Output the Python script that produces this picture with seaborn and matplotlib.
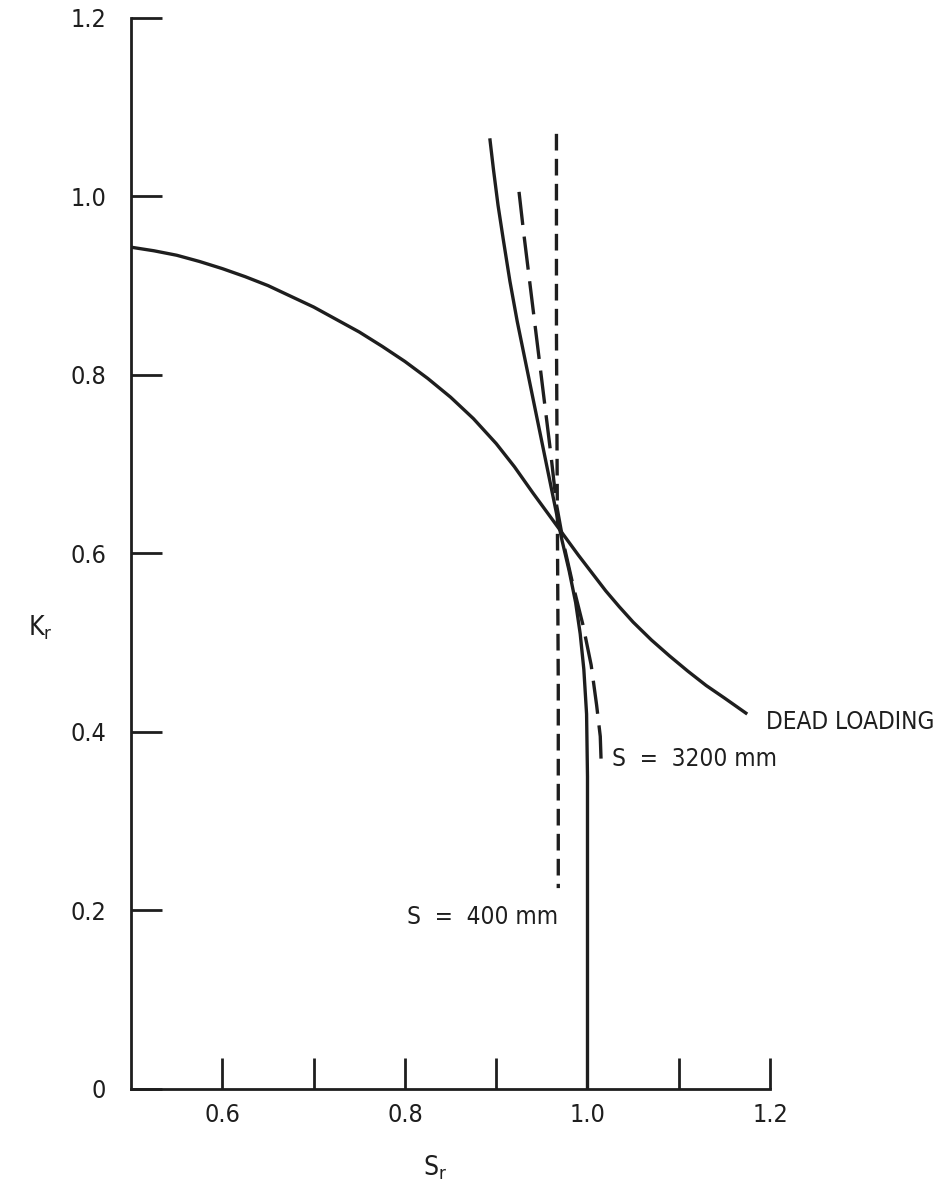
import numpy as np
import pandas as pd
import matplotlib
matplotlib.use("Agg")
import matplotlib.pyplot as plt
import seaborn as sns

# curves (S_r, K_r)
dead_s = [0.50, 0.525, 0.55, 0.575, 0.60, 0.625, 0.65, 0.675, 0.70, 0.725, 0.75,
          0.775, 0.80, 0.825, 0.85, 0.875, 0.90, 0.92, 0.94, 0.955, 0.965, 0.975,
          0.99, 1.005, 1.02, 1.035, 1.05, 1.07, 1.09, 1.11, 1.13, 1.15, 1.175]
dead_k = [0.943, 0.939, 0.934, 0.927, 0.919, 0.910, 0.900, 0.888, 0.876, 0.862, 0.848,
          0.832, 0.815, 0.796, 0.775, 0.751, 0.723, 0.697, 0.668, 0.647, 0.633, 0.619,
          0.598, 0.578, 0.558, 0.540, 0.523, 0.503, 0.485, 0.468, 0.452, 0.438, 0.420]

solid_s = [0.893, 0.897, 0.902, 0.908, 0.915, 0.923, 0.932, 0.941, 0.950, 0.958,
           0.965, 0.972, 0.980, 0.987, 0.992, 0.996, 0.999, 1.000, 1.000]
solid_k = [1.065, 1.030, 0.990, 0.950, 0.905, 0.860, 0.815, 0.770, 0.725, 0.685,
           0.650, 0.615, 0.580, 0.545, 0.510, 0.470, 0.420, 0.350, 0.000]

s3200_s = [0.925, 0.930, 0.936, 0.942, 0.948, 0.954, 0.960, 0.966, 0.974, 0.984,
           0.995, 1.004, 1.010, 1.014, 1.015]
s3200_k = [1.005, 0.960, 0.910, 0.860, 0.810, 0.760, 0.710, 0.655, 0.610, 0.565,
           0.520, 0.475, 0.430, 0.395, 0.365]

s400_s = [0.966, 0.966, 0.967, 0.968, 0.968]
s400_k = [1.07, 0.85, 0.64, 0.45, 0.225]

x_ticks = [0.6, 0.7, 0.8, 0.9, 1.0, 1.1, 1.2]
x_labels = ["0.6", "", "0.8", "", "1.0", "", "1.2"]
y_ticks = [0, 0.2, 0.4, 0.6, 0.8, 1.0, 1.2]
y_labels = ["0", "0.2", "0.4", "0.6", "0.8", "1.0", "1.2"]

sns.set_theme(style="white")
plt.rcParams['font.family'] = ['DejaVu Sans']
plt.rcParams['font.stretch'] = 'condensed'

fig = plt.figure(figsize=(9.43, 11.87), dpi=100)
ax = fig.add_axes([0.139, 0.0826, 0.6776, 0.9024])

ink = "#1e1e1e"
lw = 2.4
curves = [
    (dead_s, dead_k, None),
    (solid_s, solid_k, None),
    (s3200_s, s3200_k, (10, 3.5)),
    (s400_s, s400_k, (5, 2.5)),
]
for xs, ys, dash in curves:
    df = pd.DataFrame({"S": xs, "K": ys})
    sns.lineplot(data=df, x="S", y="K", sort=False, estimator=None,
                 color=ink, linewidth=lw, ax=ax)
    if dash is not None:
        ax.lines[-1].set_dashes(dash)
    ax.lines[-1].set_solid_capstyle("butt")
    ax.lines[-1].set_solid_joinstyle("round")

ax.set_xlim(0.5, 1.2)
ax.set_ylim(0, 1.2)
ax.set_xticks(x_ticks)
ax.set_xticklabels(x_labels)
ax.set_yticks(y_ticks)
ax.set_yticklabels(y_labels)

for side in ["top", "right"]:
    ax.spines[side].set_visible(False)
for side in ["left", "bottom"]:
    ax.spines[side].set_color(ink)
    ax.spines[side].set_linewidth(2.0)

ax.tick_params(axis="both", direction="in", length=22, width=2.0,
               bottom=True, left=True, color=ink, labelsize=18, labelcolor=ink)
ax.tick_params(axis="x", pad=10)
ax.tick_params(axis="y", pad=18)
ax.set_xlabel("")
ax.set_ylabel("")

fig.text(435 / 943, 1 - 1168 / 1187, r"S$_\mathregular{r}$", fontsize=19,
         ha="center", va="center", color=ink)
fig.text(40 / 943, 1 - 628 / 1187, r"K$_\mathregular{r}$", fontsize=19,
         ha="center", va="center", color=ink)

ax.text(1.196, 0.411, "DEAD LOADING", fontsize=17.5, ha="left", va="center",
        color=ink, clip_on=False)
ax.text(1.027, 0.37, "S  =  3200 mm", fontsize=17.5, ha="left", va="center",
        color=ink, clip_on=False)
ax.text(0.802, 0.193, "S  =  400 mm", fontsize=17.5, ha="left", va="center",
        color=ink, clip_on=False)

fig.savefig("out.png", dpi=100, facecolor="white")
